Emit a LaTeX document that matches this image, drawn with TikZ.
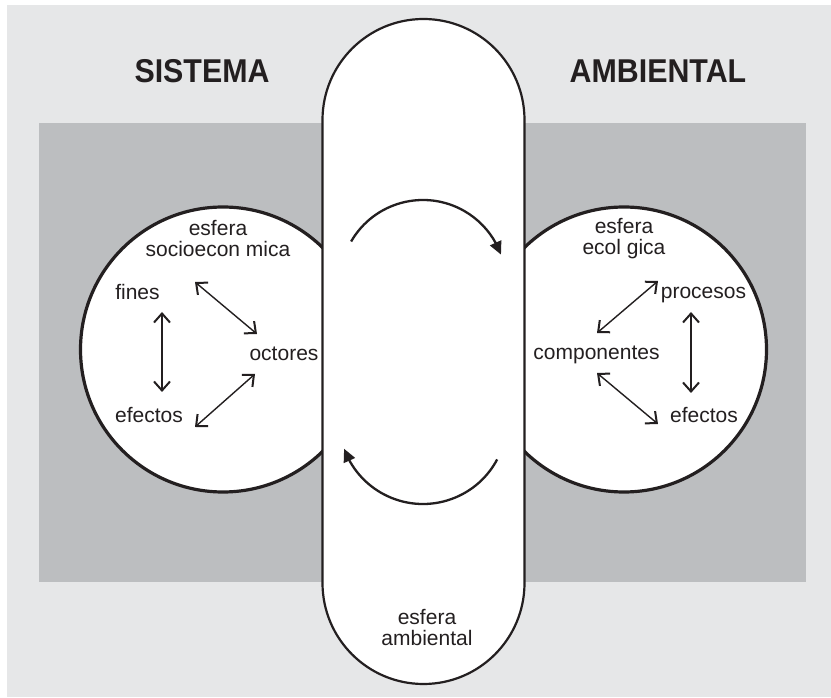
\documentclass[tikz,border=0pt]{standalone}
\usepackage{fontspec}
\setmainfont{Liberation Sans}
\usetikzlibrary{arrows.meta,bending}
\definecolor{paleback}{HTML}{E6E7E8}
\definecolor{midgray}{HTML}{BCBEC0}
\definecolor{ink}{HTML}{231F20}
\newcommand{\titleword}[1]{\scalebox{0.92}[1]{#1}}
\tikzset{
  label text/.style={font=\fontsize{21}{21}\selectfont, text=ink, inner sep=0pt, align=center, anchor=base},
  title text/.style={font=\fontsize{33}{33}\selectfont\bfseries, text=ink, inner sep=0pt, anchor=base},
  sphere/.style={draw=ink, line width=3.2pt, fill=white},
  ring/.style={draw=ink, line width=2.2pt, fill=white},
  link/.style={draw=ink, line width=1.4pt, {Straight Barb[length=9pt,width=16pt,line width=2pt]}-{Straight Barb[length=9pt,width=16pt,line width=2pt]}},
  flow/.style={draw=ink, line width=2.3pt, -{Triangle[length=13pt,width=12pt]}}
}
\begin{document}
\begin{tikzpicture}[x=1pt,y=1pt]
  % page and backgrounds
  \useasboundingbox (0,0) rectangle (831,697);
  \fill[white] (0,0) rectangle (831,697);
  \fill[paleback] (7,0) rectangle (831,692);
  \fill[midgray] (39,115) rectangle (806,574);

  % the two spheres
  \coordinate (lc) at (223,347.5);
  \coordinate (rc) at (624,347.5);
  \path[sphere] (lc) circle[radius=142.5pt];
  \path[sphere] (rc) circle[radius=142.5pt];

  % central band
  \path[ring] (322.5,114) -- (322.5,577) arc[start angle=180,end angle=0,radius=101pt]
    -- (524.5,114) arc[start angle=0,end angle=-180,radius=101pt] -- cycle;

  % titles
  \node[title text] (sis) at (202,614) {\titleword{SISTEMA}};
  \node[title text] (amb) at (658,614) {\titleword{AMBIENTAL}};

  % left sphere labels
  \node[label text] (se) at (218,440) {esfera\\socioecon mica};
  \node[label text] (fines) at (137.5,397) {fines};
  \node[label text] (efl) at (149,274) {efectos};
  \node[label text] (oct) at (284,336) {octores};

  % right sphere labels
  \node[label text] (eco) at (624,442) {esfera\\ecol gica};
  \node[label text] (proc) at (703.5,398) {procesos};
  \node[label text] (comp) at (596.5,337) {componentes};
  \node[label text] (efr) at (704,274) {efectos};

  % central label
  \node[label text] (amb2) at (427,51) {esfera\\ambiental};

  % arrow ends on the left
  \coordinate (l1a) at (162,385);
  \coordinate (l1b) at (162,305);
  \coordinate (l2a) at (195,415);
  \coordinate (l2b) at (257,363);
  \coordinate (l3a) at (255,323);
  \coordinate (l3b) at (195,270);
  \draw[link] (l1a) -- (l1b);
  \draw[link] (l2a) -- (l2b);
  \draw[link] (l3a) -- (l3b);

  % arrow ends on the right
  \coordinate (r1a) at (658,416);
  \coordinate (r1b) at (597,364);
  \coordinate (r2a) at (597,324);
  \coordinate (r2b) at (658,273);
  \coordinate (r3a) at (691,385);
  \coordinate (r3b) at (691,304);
  \draw[link] (r1a) -- (r1b);
  \draw[link] (r2a) -- (r2b);
  \draw[link] (r3a) -- (r3b);

  % circulating arrows in the band
  \coordinate (ctop) at (423,414);
  \coordinate (cbot) at (423,277);
  \draw[flow] ([shift={(150:83pt)}]ctop) arc[start angle=150,end angle=20,radius=83pt];
  \draw[flow] ([shift={(-28:84pt)}]cbot) arc[start angle=-28,end angle=-160,radius=84pt];
\end{tikzpicture}
\end{document}
